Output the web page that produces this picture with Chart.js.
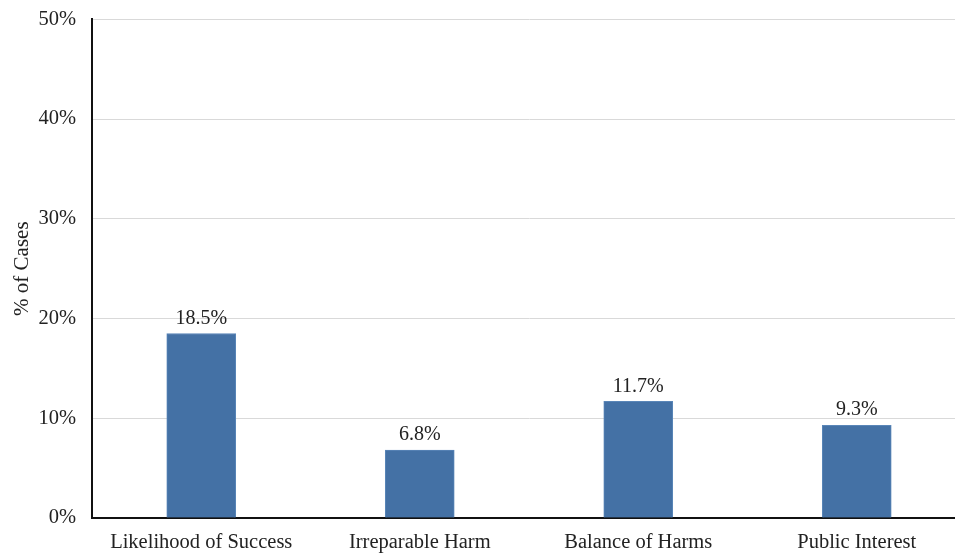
<!DOCTYPE html>
<html>
<head>
<meta charset="utf-8">
<script src="https://cdn.jsdelivr.net/npm/chart.js@4"></script>
<style>
  html, body { margin: 0; padding: 0; background: #fff; overflow: hidden; }
  .chart-wrap { width: 955px; height: 554px; overflow: hidden; }
  .chart-wrap canvas { display: block; margin-top: -9px; }
</style>
</head>
<body>
<div class="chart-wrap"><canvas id="factors" width="970" height="563"></canvas></div>
<script>
const categories = ['Likelihood of Success', 'Irreparable Harm', 'Balance of Harms', 'Public Interest'];
const pctCases = [18.5, 6.8, 11.7, 9.3];
const yTicks = [0, 10, 20, 30, 40, 50];

const serif = 'Liberation Serif, "Times New Roman", serif';

// value labels above each bar
const barLabels = {
  id: 'barLabels',
  afterDatasetsDraw(chart) {
    const ctx = chart.ctx;
    const meta = chart.getDatasetMeta(0);
    ctx.save();
    ctx.font = '20px ' + serif;
    ctx.fillStyle = '#222';
    ctx.textAlign = 'center';
    ctx.textBaseline = 'bottom';
    meta.data.forEach((bar, i) => {
      ctx.fillText(pctCases[i].toFixed(1) + '%', bar.x, bar.y - 5);
    });
    ctx.restore();
  }
};

new Chart(document.getElementById('factors'), {
  type: 'bar',
  data: {
    labels: categories,
    datasets: [{
      data: pctCases,
      backgroundColor: '#4471a5',
      borderColor: '#5a86b8',
      borderWidth: 1,
      barThickness: 69
    }]
  },
  options: {
    responsive: false,
    animation: false,
    layout: { padding: { top: 8, right: 4, left: 0, bottom: 0 } },
    plugins: {
      legend: { display: false },
      tooltip: { enabled: false }
    },
    scales: {
      x: {
        grid: { display: false, drawTicks: false },
        border: { color: '#111', width: 2 },
        ticks: { color: '#222', padding: 12, font: { family: serif, size: 20.5 } },
        afterFit: (scale) => { scale.height = 36; }
      },
      y: {
        min: 0,
        max: 50,
        afterBuildTicks: (scale) => { scale.ticks = yTicks.map(v => ({ value: v })); },
        grid: { color: '#d9d9d9', drawTicks: false },
        border: { color: '#111', width: 2 },
        ticks: {
          color: '#222',
          padding: 16,
          font: { family: serif, size: 20.5 },
          callback: (v) => v + '%'
        },
        title: {
          display: true,
          text: '% of Cases',
          color: '#222',
          padding: { top: 10, bottom: 0 },
          font: { family: serif, size: 21 }
        },
        afterFit: (scale) => { scale.width = 92; }
      }
    }
  },
  plugins: [barLabels]
});
</script>
</body>
</html>
